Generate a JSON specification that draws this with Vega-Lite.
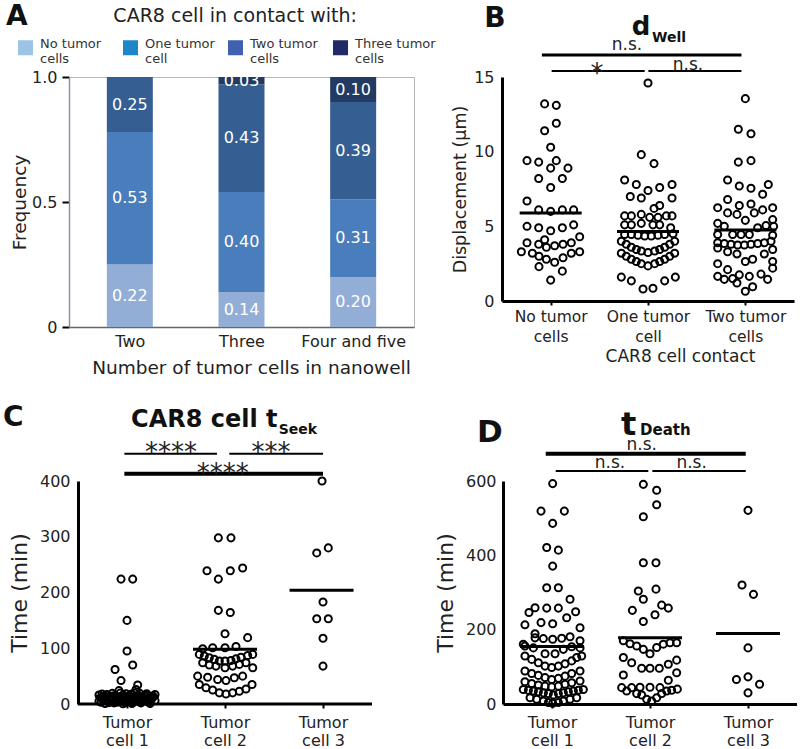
{
"$schema": "https://vega.github.io/schema/vega-lite/v6.json",
"padding": {"left": 3, "top": 2, "right": 0, "bottom": 0},
"config": {"font": "DejaVu Sans", "view": {"stroke": null}, "axis": {"grid": false, "labelColor": "#222", "titleColor": "#222", "titleFontWeight": "normal", "labelFlush": false, "labelOverlap": false}},
"datasets": {
"one": [{}],
"fracs": [
{"n":1,"wells":"Two","cat":"No tumor cells","k":0,"frac":0.25,"label":"0.22"},
{"n":1,"wells":"Two","cat":"One tumor cell","k":1,"frac":0.53,"label":"0.53"},
{"n":1,"wells":"Two","cat":"Two tumor cells","k":2,"frac":0.22,"label":"0.25"},
{"n":2,"wells":"Three","cat":"No tumor cells","k":0,"frac":0.14,"label":"0.14"},
{"n":2,"wells":"Three","cat":"One tumor cell","k":1,"frac":0.40,"label":"0.40"},
{"n":2,"wells":"Three","cat":"Two tumor cells","k":2,"frac":0.43,"label":"0.43"},
{"n":2,"wells":"Three","cat":"Three tumor cells","k":3,"frac":0.03,"label":"0.03"},
{"n":3,"wells":"Four and five","cat":"No tumor cells","k":0,"frac":0.20,"label":"0.20"},
{"n":3,"wells":"Four and five","cat":"One tumor cell","k":1,"frac":0.31,"label":"0.31"},
{"n":3,"wells":"Four and five","cat":"Two tumor cells","k":2,"frac":0.39,"label":"0.39"},
{"n":3,"wells":"Four and five","cat":"Three tumor cells","k":3,"frac":0.10,"label":"0.10"}
],
"b": [
{"x":0.938,"v":13.2},{"x":1.058,"v":13.1},{"x":1.058,"v":11.9},{"x":0.938,"v":11.4},{"x":1.0,"v":10.3},{"x":0.757,"v":9.4},{"x":0.877,"v":9.3},{"x":1.058,"v":9.4},{"x":1.0,"v":8.9},{"x":1.178,"v":8.9},{"x":0.877,"v":8.2},{"x":1.12,"v":8.2},{"x":1.0,"v":7.6},{"x":0.757,"v":6.7},{"x":0.877,"v":6.1},{"x":1.0,"v":6.0},{"x":1.12,"v":6.1},{"x":1.236,"v":6.1},{"x":0.757,"v":5.0},{"x":0.877,"v":4.9},{"x":1.0,"v":4.7},{"x":1.12,"v":4.9},{"x":1.236,"v":5.1},{"x":1.298,"v":4.3},{"x":0.757,"v":3.9},{"x":0.877,"v":3.8},{"x":0.938,"v":4.1},{"x":1.041,"v":3.7},{"x":1.127,"v":3.8},{"x":1.212,"v":3.9},{"x":0.699,"v":3.3},{"x":0.812,"v":3.2},{"x":0.956,"v":3.6},{"x":1.298,"v":3.3},{"x":1.212,"v":3.2},{"x":0.88,"v":3.0},{"x":0.956,"v":2.8},{"x":1.041,"v":2.6},{"x":1.127,"v":2.9},{"x":0.88,"v":2.3},{"x":1.12,"v":2.0},{"x":1.0,"v":1.4},
{"x":2.0,"v":14.6},{"x":1.931,"v":9.8},{"x":2.062,"v":9.2},{"x":1.76,"v":8.1},{"x":1.88,"v":7.8},{"x":2.0,"v":7.4},{"x":2.12,"v":7.6},{"x":2.247,"v":7.8},{"x":1.818,"v":7.0},{"x":1.931,"v":6.9},{"x":2.247,"v":6.9},{"x":2.12,"v":6.4},{"x":2.062,"v":6.2},
{"x":1.76,"v":5.7},{"x":1.829,"v":5.7},{"x":1.931,"v":5.8},{"x":2.017,"v":5.6},{"x":2.103,"v":5.6},{"x":2.188,"v":5.7},{"x":2.247,"v":5.7},
{"x":1.76,"v":5.1},{"x":1.829,"v":5.1},{"x":1.931,"v":5.2},{"x":2.051,"v":5.1},{"x":2.12,"v":5.1},{"x":2.233,"v":4.9},
{"x":1.76,"v":4.45},{"x":1.829,"v":4.45},{"x":1.897,"v":4.4},{"x":1.966,"v":4.35},{"x":2.034,"v":4.35},{"x":2.103,"v":4.4},{"x":2.171,"v":4.45},{"x":2.257,"v":4.5},
{"x":1.726,"v":4.0},{"x":1.777,"v":3.8},{"x":1.829,"v":3.6},{"x":1.88,"v":3.45},{"x":1.931,"v":3.35},{"x":2.0,"v":3.25},{"x":2.069,"v":3.35},{"x":2.12,"v":3.45},{"x":2.171,"v":3.6},{"x":2.223,"v":3.8},{"x":2.274,"v":4.0},
{"x":1.726,"v":3.2},{"x":1.777,"v":3.0},{"x":1.829,"v":2.8},{"x":1.88,"v":2.65},{"x":1.931,"v":2.5},{"x":2.0,"v":2.35},{"x":2.069,"v":2.5},{"x":2.12,"v":2.65},{"x":2.171,"v":2.8},{"x":2.223,"v":3.0},{"x":2.274,"v":3.2},
{"x":1.726,"v":1.6},{"x":1.829,"v":1.35},{"x":1.949,"v":0.8},{"x":2.051,"v":0.85},{"x":2.171,"v":1.35},{"x":2.281,"v":1.6},
{"x":3.0,"v":13.55},{"x":2.928,"v":11.5},{"x":3.058,"v":11.2},{"x":2.928,"v":9.3},{"x":3.058,"v":9.4},
{"x":2.818,"v":8.1},{"x":2.938,"v":7.7},{"x":3.058,"v":7.55},{"x":3.236,"v":7.8},{"x":3.178,"v":7.15},
{"x":2.818,"v":6.8},{"x":2.716,"v":6.25},{"x":2.818,"v":5.9},{"x":2.938,"v":6.4},{"x":3.058,"v":6.5},{"x":3.178,"v":6.1},{"x":3.281,"v":6.25},
{"x":2.914,"v":5.8},{"x":3.092,"v":5.9},{"x":3.0,"v":5.4},{"x":3.281,"v":5.45},
{"x":2.716,"v":5.2},{"x":2.784,"v":5.0},{"x":2.87,"v":4.45},{"x":2.956,"v":4.45},{"x":3.041,"v":4.45},{"x":3.127,"v":4.9},{"x":3.212,"v":5.05},{"x":3.291,"v":5.0},
{"x":2.716,"v":4.45},{"x":3.281,"v":4.4},
{"x":2.716,"v":3.9},{"x":2.784,"v":3.85},{"x":2.853,"v":3.8},{"x":2.921,"v":3.75},{"x":2.99,"v":3.75},{"x":3.058,"v":3.8},{"x":3.127,"v":3.85},{"x":3.195,"v":3.9},{"x":3.264,"v":4.0},
{"x":2.716,"v":3.55},{"x":2.818,"v":3.3},{"x":2.914,"v":3.15},{"x":3.195,"v":3.15},{"x":3.281,"v":3.45},
{"x":2.716,"v":2.5},{"x":3.0,"v":2.65},{"x":3.075,"v":2.8},{"x":3.281,"v":2.65},
{"x":2.818,"v":2.1},{"x":2.716,"v":1.65},{"x":2.784,"v":1.45},{"x":2.914,"v":1.2},{"x":3.041,"v":1.65},{"x":3.161,"v":1.8},{"x":3.281,"v":2.2},{"x":3.229,"v":1.45},
{"x":3.0,"v":0.65},{"x":3.075,"v":0.95},{"x":2.87,"v":1.5},{"x":2.938,"v":1.75}
],
"bm": [{"x":1.0,"v":5.9},{"x":2.0,"v":4.65},{"x":3.0,"v":4.75}],
"c": [
{"x":0.939,"v":224},{"x":1.058,"v":224},{"x":1.0,"v":150},{"x":1.0,"v":95},{"x":0.878,"v":62},{"x":1.058,"v":70},{"x":0.939,"v":42},{"x":1.109,"v":34},{"x":1.092,"v":26},{"x":1.075,"v":20},{"x":0.918,"v":24},
{"x":0.714,"v":16},{"x":0.796,"v":17},{"x":0.878,"v":15},{"x":0.959,"v":16},{"x":1.041,"v":17},{"x":1.122,"v":15},{"x":1.204,"v":16},{"x":1.286,"v":17},
{"x":0.735,"v":11},{"x":0.827,"v":10},{"x":0.908,"v":12},{"x":1.0,"v":9},{"x":1.092,"v":11},{"x":1.173,"v":10},{"x":1.265,"v":12},
{"x":0.714,"v":5},{"x":0.796,"v":6},{"x":0.878,"v":4},{"x":0.959,"v":5},{"x":1.041,"v":6},{"x":1.122,"v":4},{"x":1.204,"v":5},{"x":1.286,"v":6},
{"x":0.776,"v":1},{"x":0.867,"v":2},{"x":0.959,"v":0.5},{"x":1.051,"v":1},{"x":1.143,"v":2},{"x":1.235,"v":1},
{"x":0.755,"v":13},{"x":0.837,"v":13.5},{"x":0.918,"v":12.5},{"x":1.0,"v":13},{"x":1.082,"v":13.5},{"x":1.163,"v":12.5},{"x":1.245,"v":13},
{"x":0.755,"v":7.5},{"x":0.837,"v":8},{"x":0.918,"v":7},{"x":1.0,"v":7.5},{"x":1.082,"v":8},{"x":1.163,"v":7},{"x":1.245,"v":7.5},
{"x":0.735,"v":3},{"x":0.817,"v":2.5},{"x":0.898,"v":3},{"x":0.98,"v":2.5},{"x":1.061,"v":3},{"x":1.143,"v":2.5},{"x":1.224,"v":3},
{"x":0.85,"v":19},{"x":0.93,"v":19.5},{"x":1.13,"v":19},
{"x":0.776,"v":14.5},{"x":0.857,"v":14.5},{"x":0.939,"v":14},{"x":1.02,"v":14.5},{"x":1.102,"v":14},{"x":1.184,"v":14.5},{"x":1.265,"v":14.5},
{"x":0.776,"v":9.5},{"x":0.857,"v":9},{"x":0.959,"v":9.5},{"x":1.041,"v":9},{"x":1.122,"v":9.5},{"x":1.204,"v":9},
{"x":0.745,"v":18},{"x":0.99,"v":18.5},{"x":1.05,"v":18},{"x":1.2,"v":18.5},
{"x":1.932,"v":298},{"x":2.061,"v":298},{"x":1.816,"v":239},{"x":1.932,"v":224},{"x":2.054,"v":239},{"x":2.18,"v":244},{"x":1.932,"v":168},{"x":2.054,"v":164},{"x":2.0,"v":126},
{"x":2.231,"v":119},{"x":1.772,"v":99},{"x":1.874,"v":101},{"x":2.0,"v":101},{"x":2.112,"v":103},
{"x":1.738,"v":89},{"x":1.789,"v":86},{"x":1.84,"v":83},{"x":1.891,"v":80},{"x":1.942,"v":77},{"x":2.0,"v":77},{"x":2.061,"v":78},{"x":2.112,"v":81},{"x":2.163,"v":84},{"x":2.231,"v":87},{"x":2.283,"v":89},
{"x":1.772,"v":74},{"x":1.84,"v":70},{"x":1.908,"v":68},{"x":2.0,"v":65},{"x":2.078,"v":68},{"x":2.146,"v":71},{"x":2.214,"v":74},{"x":2.283,"v":65},
{"x":1.721,"v":50},{"x":1.823,"v":48},{"x":1.925,"v":44},{"x":2.01,"v":42},{"x":2.095,"v":47},{"x":2.18,"v":50},
{"x":1.738,"v":35},{"x":1.806,"v":29},{"x":1.874,"v":25},{"x":1.942,"v":20},{"x":2.01,"v":18},{"x":2.078,"v":20},{"x":2.146,"v":23},{"x":2.214,"v":27},{"x":2.276,"v":35},
{"x":2.99,"v":400},{"x":2.936,"v":271},{"x":3.054,"v":280},{"x":3.0,"v":183},{"x":2.936,"v":153},{"x":3.054,"v":153},{"x":3.0,"v":118},{"x":3.0,"v":68}
],
"cm": [{"x":1.0,"v":14},{"x":2.0,"v":98},{"x":2.985,"v":204}],
"d": [
{"x":1.007,"v":593},{"x":0.888,"v":519},{"x":1.126,"v":519},{"x":1.007,"v":486},{"x":0.946,"v":421},{"x":1.065,"v":414},{"x":1.007,"v":371},{"x":0.946,"v":313},{"x":1.065,"v":313},{"x":1.184,"v":282},
{"x":0.765,"v":246},{"x":0.827,"v":259},{"x":0.946,"v":258},{"x":1.065,"v":258},{"x":1.15,"v":232},{"x":1.241,"v":248},
{"x":0.724,"v":213},{"x":0.827,"v":189},{"x":0.888,"v":219},{"x":1.007,"v":216},{"x":1.286,"v":205},
{"x":0.707,"v":161},{"x":0.827,"v":178},{"x":0.912,"v":176},{"x":1.007,"v":174},{"x":1.099,"v":177},{"x":1.184,"v":181},{"x":1.286,"v":170},
{"x":0.724,"v":156},{"x":0.81,"v":151},{"x":0.929,"v":135},{"x":1.031,"v":135},{"x":1.116,"v":147},{"x":1.201,"v":154},{"x":1.286,"v":151},
{"x":0.724,"v":129},{"x":0.793,"v":120},{"x":0.861,"v":111},{"x":0.929,"v":102},{"x":0.997,"v":98},{"x":1.065,"v":102},{"x":1.133,"v":108},{"x":1.201,"v":116},{"x":1.252,"v":125},{"x":1.303,"v":129},
{"x":0.724,"v":89},{"x":0.793,"v":82},{"x":0.861,"v":77},{"x":0.929,"v":71},{"x":0.997,"v":66},{"x":1.065,"v":69},{"x":1.133,"v":75},{"x":1.201,"v":82},{"x":1.286,"v":89},
{"x":0.724,"v":60},{"x":0.793,"v":55},{"x":0.861,"v":51},{"x":0.929,"v":48},{"x":0.997,"v":46},{"x":1.065,"v":48},{"x":1.133,"v":53},{"x":1.201,"v":57},{"x":1.286,"v":62},
{"x":0.707,"v":39},{"x":0.759,"v":37},{"x":0.81,"v":35},{"x":0.861,"v":33},{"x":0.912,"v":30},{"x":0.963,"v":28},{"x":1.014,"v":24},{"x":1.065,"v":28},{"x":1.116,"v":30},{"x":1.167,"v":33},{"x":1.218,"v":35},{"x":1.269,"v":37},{"x":1.32,"v":39},
{"x":0.776,"v":17},{"x":0.844,"v":13},{"x":0.912,"v":8},{"x":0.963,"v":4},{"x":1.007,"v":2},{"x":1.065,"v":4},{"x":1.116,"v":8},{"x":1.184,"v":13},{"x":1.252,"v":17},
{"x":1.932,"v":591},{"x":2.068,"v":575},{"x":2.068,"v":536},{"x":1.932,"v":504},{"x":1.932,"v":380},{"x":2.061,"v":380},
{"x":1.881,"v":304},{"x":2.061,"v":309},{"x":1.932,"v":282},
{"x":1.82,"v":252},{"x":2.119,"v":266},{"x":2.187,"v":258},{"x":2.051,"v":240},{"x":1.932,"v":222},
{"x":1.728,"v":170},{"x":1.796,"v":162},{"x":1.864,"v":156},{"x":1.932,"v":147},{"x":2.0,"v":135},{"x":2.068,"v":152},{"x":2.136,"v":161},{"x":2.204,"v":165},{"x":2.272,"v":165},
{"x":1.728,"v":125},{"x":1.813,"v":111},{"x":1.915,"v":96},{"x":2.0,"v":96},{"x":2.095,"v":96},{"x":2.187,"v":107},{"x":2.272,"v":118},
{"x":1.728,"v":78},{"x":2.272,"v":84},{"x":2.187,"v":64},
{"x":1.711,"v":44},{"x":1.762,"v":35},{"x":1.813,"v":44},{"x":1.864,"v":28},{"x":1.915,"v":24},{"x":1.966,"v":13},{"x":2.017,"v":8},{"x":2.068,"v":17},{"x":2.119,"v":28},{"x":2.17,"v":35},{"x":2.221,"v":37},{"x":2.279,"v":40},{"x":1.898,"v":45},{"x":2.0,"v":45},{"x":2.102,"v":44},
{"x":3.0,"v":521},{"x":2.939,"v":320},{"x":3.056,"v":295},{"x":3.0,"v":151},{"x":2.882,"v":66},{"x":3.0,"v":73},{"x":3.118,"v":53},{"x":3.0,"v":30}
],
"dm": [{"x":1.0,"v":155},{"x":2.0,"v":178},{"x":3.0,"v":190}]
},
"vconcat": [
{"hconcat": [
{"width": 345, "height": 250, "view": {"stroke": "#b8b8b8"},
 "layer": [
  {"data": {"name": "fracs"}, "mark": {"type": "square", "size": 225, "opacity": 1},
   "encoding": {"x": {"datum": 1}, "y": {"datum": 0.12},
    "fill": {"field": "cat", "type": "nominal", "scale": {"domain": ["No tumor cells","One tumor cell","Two tumor cells","Three tumor cells"], "range": ["#9dc3e6","#1f86c8","#4060b0","#1f2a66"]},
     "legend": {"orient": "none", "legendX": -51, "legendY": -37, "direction": "horizontal", "columns": 4, "title": null, "labelFontSize": 13, "labelColor": "#333", "labelExpr": "datum.label == 'One tumor cell' ? ['One tumor', 'cell'] : [replace(datum.label, ' cells', ''), 'cells']", "labelBaseline": "alphabetic", "labelOffset": 7, "labelLimit": 200, "symbolType": "square", "symbolSize": 225, "symbolStrokeWidth": 0, "symbolOpacity": 1, "gridAlign": "all", "columnPadding": 2}}}},
  {"data": {"name": "fracs"}, "mark": {"type": "bar", "size": 46},
   "encoding": {
    "x": {"field": "n", "type": "quantitative", "scale": {"domain": [0.5, 3.5], "nice": false, "zero": false},
     "axis": {"values": [1,2,3], "labelExpr": "datum.value == 1 ? 'Two' : datum.value == 2 ? 'Three' : 'Four and five'", "ticks": false, "domainColor": "#666", "domainWidth": 1.5, "labelFontSize": 16, "labelPadding": 6, "title": "Number of tumor cells in nanowell", "titleFontSize": 18.5, "titlePadding": 9, "titleX": 182}},
    "y": {"field": "frac", "type": "quantitative", "stack": "zero", "scale": {"domain": [0, 1], "nice": false},
     "axis": {"values": [0, 0.5, 1], "labelExpr": "datum.value == 0 ? '0' : format(datum.value, '.1f')", "tickSize": 7, "tickWidth": 2, "tickColor": "black", "domainColor": "#8893a8", "domainWidth": 1.5, "labelFontSize": 16, "labelPadding": 5, "title": "Frequency", "titleFontSize": 18.5, "titlePadding": 2}},
    "color": {"field": "cat", "type": "nominal", "scale": {"domain": ["No tumor cells","One tumor cell","Two tumor cells","Three tumor cells"], "range": ["#93aed6","#4a7dbb","#355e93","#233a62"]}, "legend": null},
    "order": {"field": "k", "type": "quantitative"}}},
  {"data": {"name": "fracs"}, "mark": {"type": "text", "color": "white", "fontSize": 16, "align": "center", "baseline": "middle"},
   "encoding": {
    "x": {"field": "n", "type": "quantitative"},
    "y": {"field": "frac", "type": "quantitative", "stack": "zero", "bandPosition": 0.5},
    "detail": {"field": "cat", "type": "nominal"},
    "order": {"field": "k", "type": "quantitative"},
    "text": {"field": "label", "type": "nominal"}}},
  {"data": {"name": "one"}, "mark": {"type": "text", "text": "A", "fontSize": 28, "fontWeight": "bold", "align": "left", "baseline": "alphabetic", "color": "#111"},
   "encoding": {"x": {"datum": -0.109}, "y": {"datum": 1.208}}},
  {"data": {"name": "one"}, "mark": {"type": "text", "text": "CAR8 cell in contact with:", "fontSize": 19, "align": "center", "baseline": "alphabetic", "color": "#222"},
   "encoding": {"x": {"datum": 1.943}, "y": {"datum": 1.22}}}
 ]},
{"width": 292, "height": 224,
 "layer": [
  {"data": {"name": "b"}, "mark": {"type": "point", "shape": "circle", "filled": false, "stroke": "black", "strokeWidth": 2, "size": 50, "opacity": 1},
   "encoding": {
    "x": {"field": "x", "type": "quantitative", "scale": {"domain": [0.5, 3.5], "nice": false, "zero": false},
     "axis": {"values": [1,2,3], "labelExpr": "datum.value == 1 ? ['No tumor', 'cells'] : datum.value == 2 ? ['One tumor', 'cell'] : ['Two tumor', 'cells']", "domainColor": "black", "domainWidth": 3, "tickSize": 4, "tickWidth": 2, "tickColor": "black", "labelFontSize": 15.5, "labelLineHeight": 20, "labelPadding": 4, "title": "CAR8 cell contact", "titleFontSize": 17, "titlePadding": 4, "titleX": 178}},
    "y": {"field": "v", "type": "quantitative", "scale": {"domain": [0, 15], "nice": false},
     "axis": {"values": [0,5,10,15], "ticks": false, "domainColor": "black", "domainWidth": 3, "labelFontSize": 16, "labelPadding": 8, "title": "Displacement (μm)", "titleFontSize": 17.5, "titlePadding": 4}}}},
  {"data": {"name": "bm"}, "mark": {"type": "tick", "orient": "horizontal", "size": 62, "thickness": 3, "color": "black", "opacity": 1},
   "encoding": {"x": {"field": "x", "type": "quantitative"}, "y": {"field": "v", "type": "quantitative"}}},
  {"data": {"name": "one"}, "mark": {"type": "text", "text": "B", "fontSize": 28, "fontWeight": "bold", "align": "center", "baseline": "alphabetic", "color": "#111"}, "encoding": {"x": {"datum": 0.428}, "y": {"datum": 18.35}}},
  {"data": {"name": "one"}, "mark": {"type": "text", "text": "d", "fontSize": 26, "fontWeight": "bold", "align": "center", "baseline": "alphabetic", "color": "#111"}, "encoding": {"x": {"datum": 1.928}, "y": {"datum": 17.81}}},
  {"data": {"name": "one"}, "mark": {"type": "text", "text": "Well", "fontSize": 14, "fontWeight": "bold", "align": "left", "baseline": "alphabetic", "color": "#111"}, "encoding": {"x": {"datum": 2.041}, "y": {"datum": 17.34}}},
  {"data": {"name": "one"}, "mark": {"type": "text", "text": "n.s.", "fontSize": 17, "align": "center", "baseline": "alphabetic", "color": "#222"}, "encoding": {"x": {"datum": 1.784}, "y": {"datum": 16.81}}},
  {"data": {"name": "one"}, "mark": {"type": "rule", "strokeWidth": 3, "color": "black"}, "encoding": {"x": {"datum": 0.91}, "x2": {"datum": 2.96}, "y": {"datum": 16.47}}},
  {"data": {"name": "one"}, "mark": {"type": "rule", "strokeWidth": 2, "color": "black"}, "encoding": {"x": {"datum": 1.01}, "x2": {"datum": 1.966}, "y": {"datum": 15.4}}},
  {"data": {"name": "one"}, "mark": {"type": "rule", "strokeWidth": 2, "color": "black"}, "encoding": {"x": {"datum": 2.004}, "x2": {"datum": 2.96}, "y": {"datum": 15.4}}},
  {"data": {"name": "one"}, "mark": {"type": "text", "text": "*", "fontSize": 26, "align": "center", "baseline": "alphabetic", "color": "#222"}, "encoding": {"x": {"datum": 1.476}, "y": {"datum": 14.67}}},
  {"data": {"name": "one"}, "mark": {"type": "text", "text": "n.s.", "fontSize": 17, "align": "center", "baseline": "alphabetic", "color": "#222"}, "encoding": {"x": {"datum": 2.411}, "y": {"datum": 15.5}}}
 ]}
], "spacing": 36},
{"hconcat": [
{"width": 303, "height": 223,
 "layer": [
  {"data": {"name": "c"}, "mark": {"type": "point", "shape": "circle", "filled": false, "stroke": "black", "strokeWidth": 2, "size": 50, "opacity": 1},
   "encoding": {
    "x": {"field": "x", "type": "quantitative", "scale": {"domain": [0.408, 3.5], "nice": false, "zero": false},
     "axis": {"values": [1,2,3], "labelExpr": "['Tumor', 'cell ' + datum.value]", "domain": false, "tickSize": 4, "tickWidth": 2, "tickColor": "black", "labelFontSize": 16, "labelLineHeight": 18, "labelPadding": 6, "title": null}},
    "y": {"field": "v", "type": "quantitative", "scale": {"domain": [0, 400], "nice": false},
     "axis": {"values": [0,100,200,300,400], "ticks": false, "offset": -9, "domainColor": "black", "domainWidth": 3, "labelFontSize": 16, "labelPadding": 8, "title": "Time (min)", "titleFontSize": 22, "titlePadding": 8}}}},
  {"data": {"name": "one"}, "mark": {"type": "rule", "strokeWidth": 3, "color": "black"}, "encoding": {"x": {"datum": 0.5}, "x2": {"datum": 3.5}, "y": {"datum": 0}}},
  {"data": {"name": "cm"}, "mark": {"type": "tick", "orient": "horizontal", "size": 64, "thickness": 3, "color": "black", "opacity": 1},
   "encoding": {"x": {"field": "x", "type": "quantitative"}, "y": {"field": "v", "type": "quantitative"}}},
  {"data": {"name": "one"}, "mark": {"type": "text", "text": "C", "fontSize": 28, "fontWeight": "bold", "align": "left", "baseline": "alphabetic", "color": "#111"}, "encoding": {"x": {"datum": -0.265}, "y": {"datum": 498.7}}},
  {"data": {"name": "one"}, "mark": {"type": "text", "text": "CAR8 cell t", "fontSize": 24, "fontWeight": "bold", "align": "left", "baseline": "alphabetic", "color": "#111"}, "encoding": {"x": {"datum": 1.041}, "y": {"datum": 496.9}}},
  {"data": {"name": "one"}, "mark": {"type": "text", "text": "Seek", "fontSize": 14, "fontWeight": "bold", "align": "left", "baseline": "alphabetic", "color": "#111"}, "encoding": {"x": {"datum": 2.548}, "y": {"datum": 484.3}}},
  {"data": {"name": "one"}, "mark": {"type": "rule", "strokeWidth": 2, "color": "black"}, "encoding": {"x": {"datum": 0.973}, "x2": {"datum": 1.918}, "y": {"datum": 449}}},
  {"data": {"name": "one"}, "mark": {"type": "rule", "strokeWidth": 2, "color": "black"}, "encoding": {"x": {"datum": 2.044}, "x2": {"datum": 3.0}, "y": {"datum": 449}}},
  {"data": {"name": "one"}, "mark": {"type": "text", "text": "****", "fontSize": 26, "align": "center", "baseline": "alphabetic", "color": "#222"}, "encoding": {"x": {"datum": 1.449}, "y": {"datum": 435.9}}},
  {"data": {"name": "one"}, "mark": {"type": "text", "text": "***", "fontSize": 26, "align": "center", "baseline": "alphabetic", "color": "#222"}, "encoding": {"x": {"datum": 2.469}, "y": {"datum": 435.9}}},
  {"data": {"name": "one"}, "mark": {"type": "rule", "strokeWidth": 4, "color": "black"}, "encoding": {"x": {"datum": 0.973}, "x2": {"datum": 3.0}, "y": {"datum": 413}}},
  {"data": {"name": "one"}, "mark": {"type": "text", "text": "****", "fontSize": 26, "align": "center", "baseline": "alphabetic", "color": "#222"}, "encoding": {"x": {"datum": 1.976}, "y": {"datum": 399}}}
 ]},
{"width": 294, "height": 223,
 "layer": [
  {"data": {"name": "d"}, "mark": {"type": "point", "shape": "circle", "filled": false, "stroke": "black", "strokeWidth": 2, "size": 50, "opacity": 1},
   "encoding": {
    "x": {"field": "x", "type": "quantitative", "scale": {"domain": [0.5, 3.5], "nice": false, "zero": false},
     "axis": {"values": [1,2,3], "labelExpr": "['Tumor', 'cell ' + datum.value]", "domainColor": "black", "domainWidth": 3, "tickSize": 4, "tickWidth": 2, "tickColor": "black", "labelFontSize": 16, "labelLineHeight": 18, "labelPadding": 6, "title": null}},
    "y": {"field": "v", "type": "quantitative", "scale": {"domain": [0, 600], "nice": false},
     "axis": {"values": [0,200,400,600], "ticks": false, "domainColor": "black", "domainWidth": 3, "labelFontSize": 16, "labelPadding": 7, "title": "Time (min)", "titleFontSize": 22, "titlePadding": 8}}}},
  {"data": {"name": "dm"}, "mark": {"type": "tick", "orient": "horizontal", "size": 64, "thickness": 3, "color": "black", "opacity": 1},
   "encoding": {"x": {"field": "x", "type": "quantitative"}, "y": {"field": "v", "type": "quantitative"}}},
  {"data": {"name": "one"}, "mark": {"type": "text", "text": "D", "fontSize": 31, "fontWeight": "bold", "align": "left", "baseline": "alphabetic", "color": "#111"}, "encoding": {"x": {"datum": 0.235}, "y": {"datum": 705}}},
  {"data": {"name": "one"}, "mark": {"type": "text", "text": "t", "fontSize": 32, "fontWeight": "bold", "align": "center", "baseline": "alphabetic", "color": "#111"}, "encoding": {"x": {"datum": 1.783}, "y": {"datum": 723.8}}},
  {"data": {"name": "one"}, "mark": {"type": "text", "text": "Death", "fontSize": 15, "fontWeight": "bold", "align": "left", "baseline": "alphabetic", "color": "#111"}, "encoding": {"x": {"datum": 1.898}, "y": {"datum": 723.8}}},
  {"data": {"name": "one"}, "mark": {"type": "text", "text": "n.s.", "fontSize": 17, "align": "center", "baseline": "alphabetic", "color": "#222"}, "encoding": {"x": {"datum": 1.915}, "y": {"datum": 682.6}}},
  {"data": {"name": "one"}, "mark": {"type": "rule", "strokeWidth": 4, "color": "black"}, "encoding": {"x": {"datum": 0.936}, "x2": {"datum": 2.977}, "y": {"datum": 673.5}}},
  {"data": {"name": "one"}, "mark": {"type": "rule", "strokeWidth": 2, "color": "black"}, "encoding": {"x": {"datum": 1.038}, "x2": {"datum": 1.983}, "y": {"datum": 627}}},
  {"data": {"name": "one"}, "mark": {"type": "rule", "strokeWidth": 2, "color": "black"}, "encoding": {"x": {"datum": 2.024}, "x2": {"datum": 2.977}, "y": {"datum": 627}}},
  {"data": {"name": "one"}, "mark": {"type": "text", "text": "n.s.", "fontSize": 17, "align": "center", "baseline": "alphabetic", "color": "#222"}, "encoding": {"x": {"datum": 1.592}, "y": {"datum": 634.2}}},
  {"data": {"name": "one"}, "mark": {"type": "text", "text": "n.s.", "fontSize": 17, "align": "center", "baseline": "alphabetic", "color": "#222"}, "encoding": {"x": {"datum": 2.425}, "y": {"datum": 634.2}}}
 ]}
], "spacing": 60}
],
"spacing": 26
}
